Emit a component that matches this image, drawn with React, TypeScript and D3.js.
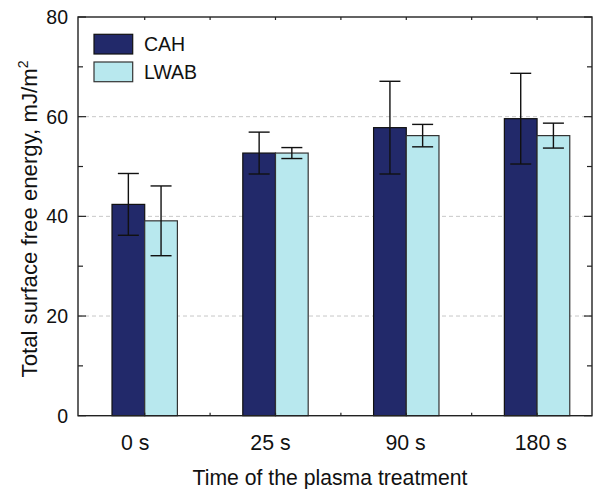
import React from "react";
import * as d3 from "d3";

const categories = ["0 s", "25 s", "90 s", "180 s"];
const seriesNames = ["CAH", "LWAB"];
const cahValues = [42.4, 52.7, 57.8, 59.6];
const cahErrors = [6.2, 4.2, 9.3, 9.1];
const lwabValues = [39.1, 52.7, 56.2, 56.2];
const lwabErrors = [7.0, 1.1, 2.25, 2.5];
const yMajorTicks = [0, 20, 40, 60, 80];
const yMinorTicks = [10, 30, 50, 70];
const gridTicks = [20, 40, 60];
const xTickPositions = [1, 1.5, 2, 2.5, 3, 3.5, 4];

const W = 595;
const H = 489;
const L = 78;
const R = 592;
const T = 17;
const B = 415.7;
const FONT = "'Liberation Sans', Arial, Helvetica, sans-serif";
const COLORS = ["#22296a", "#b8e8ee"];
const STROKES = ["#111111", "#333333"];

export default function App() {
  const x = d3.scaleLinear().domain([0.49, 4.42]).range([L, R]);
  const y = d3.scaleLinear().domain([0, 80]).range([B, T]);
  const labelX = d3.scalePoint<string>().domain(categories).range([135.3, 540.8]);
  const barW = 0.25;
  const capW = 21;

  const series = [
    { name: seriesNames[0], values: cahValues, errors: cahErrors, offset: -barW },
    { name: seriesNames[1], values: lwabValues, errors: lwabErrors, offset: 0 },
  ];

  return (
    <svg
      width={W}
      height={H}
      style={{ position: "absolute", left: 0, top: 0, background: "#fff" }}
      fontFamily={FONT}
    >
      <rect x={0} y={0} width={W} height={H} fill="#fff" />
      {gridTicks.map((t) => (
        <line
          key={"g" + t}
          x1={L}
          x2={R}
          y1={y(t)}
          y2={y(t)}
          stroke="#c8c8c8"
          strokeWidth={1}
          strokeDasharray="4,3"
        />
      ))}
      {series.map((s, si) =>
        s.values.map((v, i) => {
          const x0 = x(i + 1 + s.offset);
          const x1 = x(i + 1 + s.offset + barW);
          return (
            <rect
              key={s.name + i}
              x={x0}
              y={y(v)}
              width={x1 - x0}
              height={y(0) - y(v)}
              fill={COLORS[si]}
              stroke={STROKES[si]}
              strokeWidth={1.2}
            />
          );
        })
      )}
      {series.map((s, si) =>
        s.values.map((v, i) => {
          const cx = x(i + 1 + s.offset + barW / 2);
          const yt = y(v + s.errors[i]);
          const yb = y(v - s.errors[i]);
          return (
            <g key={"e" + s.name + i} stroke="#111" strokeWidth={1.4}>
              <line x1={cx} x2={cx} y1={yt} y2={yb} />
              <line x1={cx - capW / 2} x2={cx + capW / 2} y1={yt} y2={yt} />
              <line x1={cx - capW / 2} x2={cx + capW / 2} y1={yb} y2={yb} />
            </g>
          );
        })
      )}
      <rect x={L} y={T} width={R - L} height={B - T} fill="none" stroke="#222" strokeWidth={1.4} />
      {yMajorTicks.map((t) => (
        <g key={"yt" + t} stroke="#222" strokeWidth={1.2}>
          <line x1={L} x2={L + 8} y1={y(t)} y2={y(t)} />
          <line x1={R} x2={R - 8} y1={y(t)} y2={y(t)} />
        </g>
      ))}
      {yMinorTicks.map((t) => (
        <g key={"ym" + t} stroke="#222" strokeWidth={1.2}>
          <line x1={L} x2={L + 5} y1={y(t)} y2={y(t)} />
          <line x1={R} x2={R - 5} y1={y(t)} y2={y(t)} />
        </g>
      ))}
      {xTickPositions.map((t) => (
        <g key={"xt" + t} stroke="#222" strokeWidth={1.2}>
          <line x1={x(t)} x2={x(t)} y1={T} y2={T + 3} />
          <line x1={x(t)} x2={x(t)} y1={B} y2={B - 3} />
        </g>
      ))}
      {yMajorTicks.map((t) => (
        <text
          key={"yl" + t}
          x={68}
          y={y(t)}
          dy="0.36em"
          textAnchor="end"
          fontSize={19.5}
          fill="#111"
        >
          {t}
        </text>
      ))}
      {categories.map((c) => (
        <text key={c} x={labelX(c)} y={450} textAnchor="middle" fontSize={21.3} fill="#111">
          {c}
        </text>
      ))}
      <text x={330} y={485} textAnchor="middle" fontSize={21.2} fill="#111">
        Time of the plasma treatment
      </text>
      <text
        transform={`translate(37,${219}) rotate(-90)`}
        textAnchor="middle"
        fontSize={22.2}
        fill="#111"
      >
        Total surface free energy, mJ/m
        <tspan dy={-9} fontSize={14}>2</tspan>
      </text>
      {seriesNames.map((n, i) => (
        <g key={"lg" + n}>
          <rect
            x={94}
            y={34.3 + i * 27.7}
            width={38.7}
            height={19.7}
            fill={COLORS[i]}
            stroke={STROKES[i]}
            strokeWidth={1.2}
          />
          <text x={144} y={44.2 + i * 27.7} dy="0.36em" fontSize={19.5} fill="#111">
            {n}
          </text>
        </g>
      ))}
    </svg>
  );
}
